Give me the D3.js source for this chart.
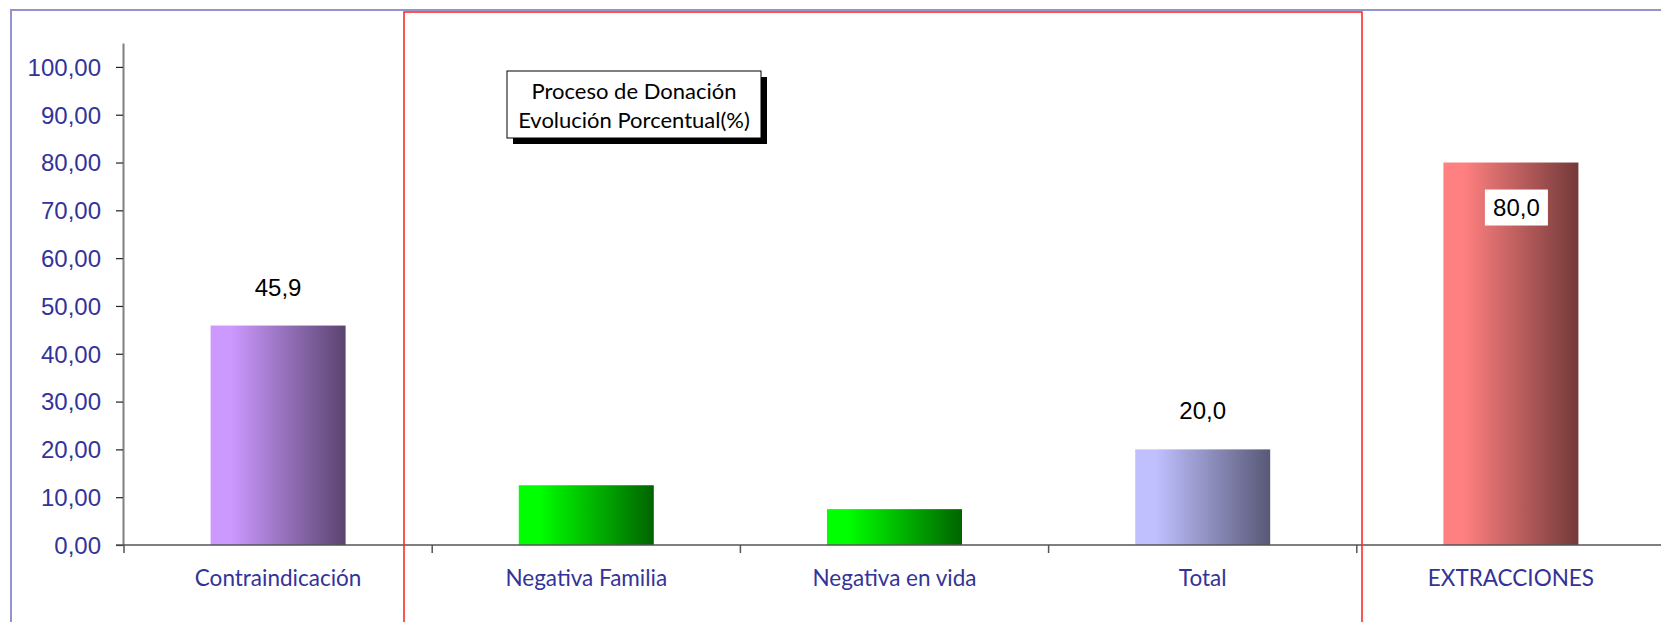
<!DOCTYPE html>
<html>
<head>
<meta charset="utf-8">
<script src="https://cdn.jsdelivr.net/npm/d3@7"></script>
<style>
    body { margin: 0; background: #fff; overflow: hidden; }
</style>
</head>
<body>
<svg id="chart"></svg>
<script>
const categories = ['Contraindicación', 'Negativa Familia', 'Negativa en vida', 'Total', 'EXTRACCIONES']
const values = [45.9, 12.5, 7.5, 20.0, 80.0]
const valueLabels = ['45,9', null, null, '20,0', '80,0'] // Excel only labelled three of the bars
const yTicks = [0, 10, 20, 30, 40, 50, 60, 70, 80, 90, 100]
const titleLines = ['Proceso de Donación', 'Evolución Porcentual(%)']

// shading per bar: light colour on the left, dark on the right
const shades = [
    { light: '#cc99ff', dark: '#5a4470' },
    { light: '#00ff00', dark: '#006400' },
    { light: '#00ff00', dark: '#006400' },
    { light: '#c0c0ff', dark: '#585877' },
    { light: '#ff8080', dark: '#733939' }
]

const width = 1661
const height = 622
const svg = d3.select('#chart')
    .attr('width', width)
    .attr('height', height)

const calibri = 'Lato, "Open Sans", sans-serif'
const arial = '"Liberation Sans", Arial, sans-serif'

const x = d3.scaleBand()
    .domain(categories)
    .range([124, 1665]) // the plot runs off the right edge like in the original
    .paddingInner(0.562)
    .paddingOuter(0.281)

const y = d3.scaleLinear()
    .domain([0, 105])
    .range([545, 43])

const defs = svg.append('defs')
shades.forEach((s, i) => {
    const g = defs.append('linearGradient')
        .attr('id', 'shade' + i)
        .attr('x1', 0).attr('x2', 1).attr('y1', 0).attr('y2', 0)
    g.append('stop').attr('offset', '0%').attr('stop-color', s.light)
    g.append('stop').attr('offset', '15%').attr('stop-color', s.light)
    g.append('stop').attr('offset', '100%').attr('stop-color', s.dark)
})

// outer chart border
svg.append('rect')
    .attr('x', 11).attr('y', 10)
    .attr('width', 1700).attr('height', 700)
    .attr('fill', 'none')
    .attr('stroke', '#9494cc')
    .attr('stroke-width', 2)

// bars
svg.append('g')
    .selectAll('rect')
    .data(values)
    .enter()
    .append('rect')
    .attr('x', (d, i) => x(categories[i]))
    .attr('y', d => y(d))
    .attr('width', x.bandwidth())
    .attr('height', d => y(0) - y(d))
    .attr('fill', (d, i) => `url(#shade${i})`)

// y axis
const yAxis = svg.append('g')
    .attr('transform', `translate(${x.range()[0] - 1},0)`)
    .call(d3.axisLeft(y)
        .tickValues(yTicks)
        .tickSize(7)
        .tickSizeOuter(0)
        .tickPadding(15)
        .tickFormat(d => d3.format('.2f')(d).replace('.', ',')))
yAxis.select('.domain').attr('stroke', '#808080').attr('stroke-width', 2)
yAxis.selectAll('.tick line').attr('stroke', '#222').attr('stroke-width', 1.2)
yAxis.selectAll('.tick text')
    .attr('fill', '#333399')
    .style('font-family', arial)
    .style('font-size', '24px')
    .attr('dy', '0.35em')

// x axis line with ticks on the band boundaries
const xAxis = svg.append('g')
    .attr('transform', `translate(0,${y(0)})`)
    .call(d3.axisBottom(x).tickSize(0).tickSizeOuter(0).tickPadding(25))
xAxis.select('.domain')
    .attr('d', `M116,0H${width}`)
    .attr('stroke', '#555')
    .attr('stroke-width', 1.5)
xAxis.selectAll('.tick text')
    .attr('fill', '#333399')
    .style('font-family', calibri)
    .style('font-size', '22.5px')

const bounds = d3.range(categories.length).map(i => x.range()[0] + i * x.step())
xAxis.selectAll('.bound')
    .data(bounds)
    .enter()
    .append('line')
    .attr('class', 'bound')
    .attr('x1', d => d).attr('x2', d => d)
    .attr('y1', 0).attr('y2', 8)
    .attr('stroke', '#555')
    .attr('stroke-width', 1.5)

// value labels
const labels = svg.append('g')
values.forEach((v, i) => {
    const txt = valueLabels[i]
    if (!txt) return
    const cx = x(categories[i]) + x.bandwidth() / 2
    if (v > 60) {
        // big bar: label sits inside on a white box
        labels.append('rect')
            .attr('x', cx - 26).attr('y', y(v) + 27)
            .attr('width', 63).attr('height', 36)
            .attr('fill', '#fff')
        labels.append('text')
            .attr('x', cx + 5.5).attr('y', y(v) + 53)
            .attr('text-anchor', 'middle')
            .style('font-family', arial)
            .style('font-size', '24px')
            .text(txt)
    } else {
        labels.append('text')
            .attr('x', cx).attr('y', y(v) - 30)
            .attr('text-anchor', 'middle')
            .style('font-family', arial)
            .style('font-size', '24px')
            .text(txt)
    }
})

// red highlight box around the middle three categories
svg.append('rect')
    .attr('x', 404).attr('y', 12)
    .attr('width', 958).attr('height', 700)
    .attr('fill', 'none')
    .attr('stroke', '#ff2a2a')
    .attr('stroke-width', 1.6)

// title box with shadow
const tb = svg.append('g')
tb.append('rect')
    .attr('x', 513).attr('y', 77)
    .attr('width', 254).attr('height', 67)
    .attr('fill', '#000')
tb.append('rect')
    .attr('x', 507).attr('y', 71)
    .attr('width', 254).attr('height', 67)
    .attr('fill', '#fff')
    .attr('stroke', '#000')
    .attr('stroke-width', 1)
tb.selectAll('text')
    .data(titleLines)
    .enter()
    .append('text')
    .attr('x', 634)
    .attr('y', (d, i) => 99 + i * 29)
    .attr('text-anchor', 'middle')
    .style('font-family', calibri)
    .style('font-size', '22px')
    .text(d => d)
</script>
</body>
</html>
